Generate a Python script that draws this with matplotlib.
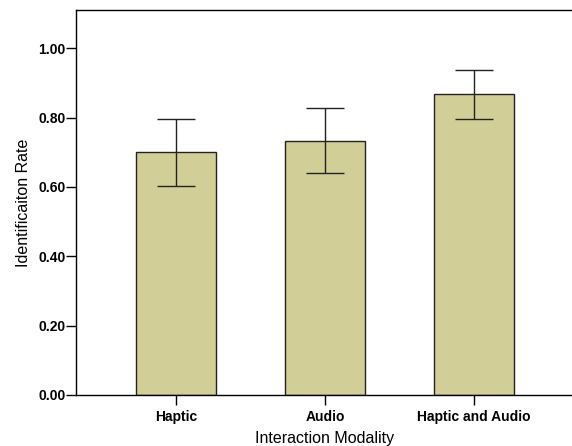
import matplotlib
matplotlib.use("Agg")
import matplotlib.pyplot as plt
import numpy as np

categories = ["Haptic", "Audio", "Haptic and Audio"]
means = [0.70, 0.733, 0.867]
err_low = [0.603, 0.640, 0.795]
err_high = [0.796, 0.827, 0.938]
yticks = [0.0, 0.2, 0.4, 0.6, 0.8, 1.0]
ytick_labels = ["0.00", "0.20", "0.40", "0.60", "0.80", "1.00"]

plt.rcParams['font.family'] = ['Liberation Sans', 'DejaVu Sans']

fig = plt.figure(figsize=(5.72, 4.46), dpi=100)
W, H = 572, 446
ax = fig.add_axes([76 / W, 1 - 395 / H, (573.7 - 76) / W, (395 - 10) / H])

x = np.arange(len(categories))
means_a = np.array(means)
yerr = np.vstack([means_a - np.array(err_low), np.array(err_high) - means_a])

ax.bar(x, means, width=0.54, color="#D2CE98", edgecolor="#222222", linewidth=1.0, zorder=2)
ax.errorbar(x, means, yerr=yerr, fmt="none", ecolor="#222222", elinewidth=1.0,
            capsize=13.5, capthick=1.0, zorder=3)

ax.set_xlim(-0.671, 2.671)
ax.set_ylim(0, 1.11)
ax.set_yticks(yticks)
ax.set_yticklabels(ytick_labels, fontsize=10, fontweight="bold")
ax.set_xticks(x)
ax.set_xticklabels(categories, fontsize=10, fontweight="bold")
ax.tick_params(axis="y", direction="out", length=7, width=1, pad=0.5, colors="#000000")
ax.tick_params(axis="x", direction="out", length=7, width=1, pad=3.5, colors="#000000")

for s in ax.spines.values():
    s.set_linewidth(1.0)
    s.set_color("#000000")

ax.set_ylabel("Identificaiton Rate", fontsize=11.5, labelpad=5)
ax.set_xlabel("Interaction Modality", fontsize=11.5, labelpad=5)

fig.savefig("out.png", dpi=100)
